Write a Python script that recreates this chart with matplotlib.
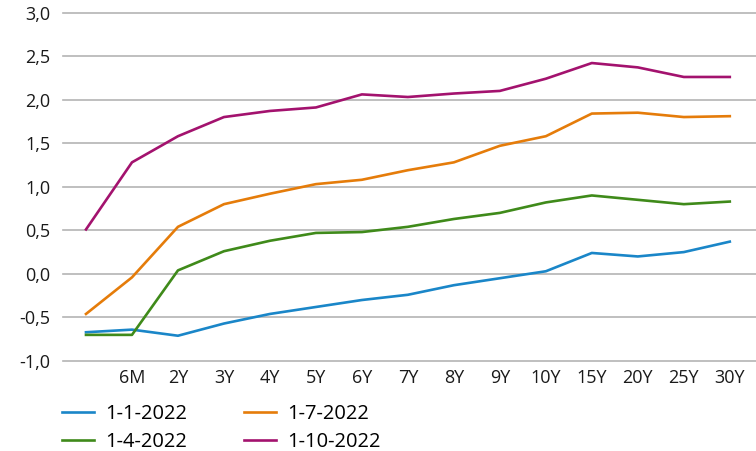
import matplotlib.pyplot as plt
from matplotlib.ticker import FuncFormatter

# løbetider (første punkt har ingen label på aksen)
maturities = ["", "6M", "2Y", "3Y", "4Y", "5Y", "6Y", "7Y", "8Y", "9Y",
              "10Y", "15Y", "20Y", "25Y", "30Y"]

jan = [-0.67, -0.64, -0.71, -0.57, -0.46, -0.38, -0.30, -0.24, -0.13, -0.05,
       0.03, 0.24, 0.20, 0.25, 0.37]
apr = [-0.70, -0.70, 0.04, 0.26, 0.38, 0.47, 0.48, 0.54, 0.63, 0.70,
       0.82, 0.90, 0.85, 0.80, 0.83]
jul = [-0.46, -0.04, 0.54, 0.80, 0.92, 1.03, 1.08, 1.19, 1.28, 1.47,
       1.58, 1.84, 1.85, 1.80, 1.81]
okt = [0.51, 1.28, 1.58, 1.80, 1.87, 1.91, 2.06, 2.03, 2.07, 2.10,
       2.24, 2.42, 2.37, 2.26, 2.26]

yticks = [-1.0, -0.5, 0.0, 0.5, 1.0, 1.5, 2.0, 2.5, 3.0]

plt.rcParams['font.family'] = ['Open Sans', 'DejaVu Sans']

fig = plt.figure(figsize=(7.56, 4.51), dpi=100)
ax = fig.add_axes([63/756, 1 - 361/451, 1 - 63/756, (361 - 12.5)/451])

x = range(len(maturities))
ax.plot(x, jan, c='#1a86c8', lw=1.9, label="1-1-2022")
ax.plot(x, apr, c='#3f8a1a', lw=1.9, label="1-4-2022")
ax.plot(x, jul, c='#e57c0a', lw=1.9, label="1-7-2022")
ax.plot(x, okt, c='#a3126e', lw=1.9, label="1-10-2022")

ax.set_xlim(-0.5, 14.57)
ax.set_ylim(-1.0, 3.0)
ax.set_yticks(yticks)
ax.yaxis.set_major_formatter(FuncFormatter(lambda v, p: f"{v:.1f}".replace(".", ",")))
ax.set_xticks(list(x))
ax.set_xticklabels(maturities)
ax.grid(axis='y', color='#b4b4b4', lw=1.2, clip_on=False)
ax.set_axisbelow(True)
for s in ax.spines.values():
    s.set_visible(False)
ax.tick_params(length=0, labelsize=13, colors='#1a1a1a')
ax.tick_params(axis='y', pad=9)
ax.tick_params(axis='x', pad=6)

fig.legend(loc='upper left', bbox_to_anchor=(54/756, 1 - 396/451), ncol=2,
           frameon=False, fontsize=14.5, handlelength=1.6, handletextpad=0.55,
           columnspacing=2.8, labelspacing=0.4, borderaxespad=0)

fig.savefig("out.png", dpi=100)
